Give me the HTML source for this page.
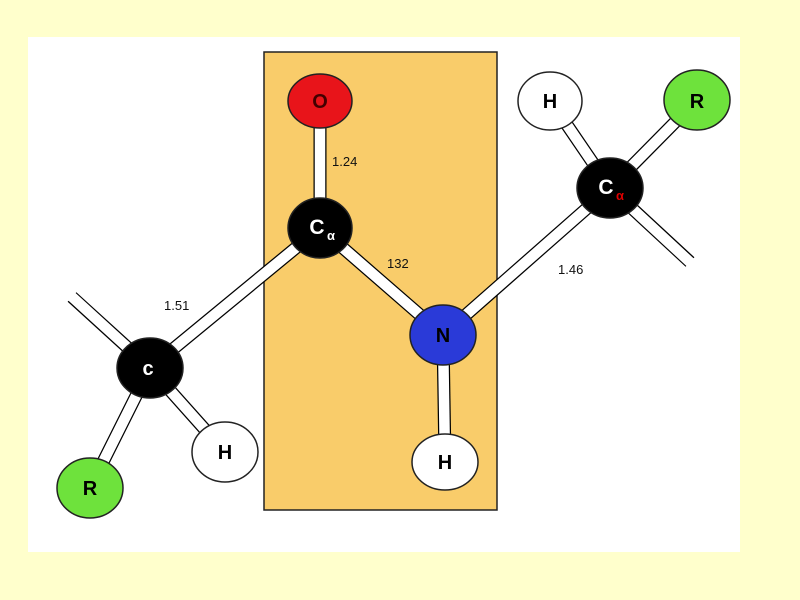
<!DOCTYPE html>
<html><head><style>
html,body{margin:0;padding:0;background:#FFFFCC;}
svg{display:block;}
text{font-family:"Liberation Sans",sans-serif;}
</style></head><body>
<svg width="800" height="600" viewBox="0 0 800 600">
<rect x="0" y="0" width="800" height="600" fill="#FFFFCC"/>
<rect x="28" y="37" width="712" height="515" fill="#fff"/>
<rect x="264" y="52" width="233" height="458" fill="#F9CC6A" stroke="#222" stroke-width="1.5"/>
<g stroke-linecap="butt">
<g stroke="#000" stroke-width="13">
<line x1="320" y1="100" x2="320" y2="228"/>
<line x1="320" y1="228" x2="443" y2="335"/>
<line x1="320" y1="228" x2="150" y2="368"/>
<line x1="443" y1="335" x2="610" y2="188"/>
<line x1="443" y1="335" x2="445" y2="462"/>
<line x1="150" y1="368" x2="72" y2="297"/>
<line x1="150" y1="368" x2="90" y2="488"/>
<line x1="150" y1="368" x2="225" y2="452"/>
<line x1="610" y1="188" x2="690" y2="262"/>
<line x1="610" y1="188" x2="550" y2="100"/>
<line x1="610" y1="188" x2="697" y2="100"/>
</g>
<g stroke="#fff" stroke-width="10.5">
<line x1="320" y1="100" x2="320" y2="228"/>
<line x1="320" y1="228" x2="443" y2="335"/>
<line x1="320" y1="228" x2="150" y2="368"/>
<line x1="443" y1="335" x2="610" y2="188"/>
<line x1="443" y1="335" x2="445" y2="462"/>
<line x1="150" y1="368" x2="70" y2="295"/>
<line x1="150" y1="368" x2="90" y2="488"/>
<line x1="150" y1="368" x2="225" y2="452"/>
<line x1="610" y1="188" x2="692" y2="264"/>
<line x1="610" y1="188" x2="550" y2="100"/>
<line x1="610" y1="188" x2="697" y2="100"/>
</g>
</g>
<g stroke="#222" stroke-width="1.5">
<ellipse cx="320" cy="101" rx="32" ry="27" fill="#E8141A"/>
<ellipse cx="320" cy="228" rx="32" ry="30" fill="#000"/>
<ellipse cx="443" cy="335" rx="33" ry="30" fill="#2A3AD8"/>
<ellipse cx="445" cy="462" rx="33" ry="28" fill="#fff"/>
<ellipse cx="610" cy="188" rx="33" ry="30" fill="#000"/>
<ellipse cx="550" cy="101" rx="32" ry="29" fill="#fff"/>
<ellipse cx="697" cy="100" rx="33" ry="30" fill="#6EE23C"/>
<ellipse cx="150" cy="368" rx="33" ry="30" fill="#000"/>
<ellipse cx="225" cy="452" rx="33" ry="30" fill="#fff"/>
<ellipse cx="90" cy="488" rx="33" ry="30" fill="#6EE23C"/>
</g>
<g font-size="20" text-anchor="middle" font-weight="bold">
<text x="320" y="108" fill="#400">O</text>
<text x="317" y="234" fill="#fff" font-size="21">C</text>
<text x="331" y="240" fill="#fff" font-size="13">α</text>
<text x="443" y="342" fill="#000">N</text>
<text x="445" y="469" fill="#000">H</text>
<text x="606" y="194" fill="#fff" font-size="21">C</text>
<text x="620" y="200" fill="#d00" font-size="13">α</text>
<text x="550" y="108" fill="#000">H</text>
<text x="697" y="108" fill="#000">R</text>
<text x="148" y="375" fill="#fff">c</text>
<text x="225" y="459" fill="#000">H</text>
<text x="90" y="495" fill="#000">R</text>
</g>
<g font-size="13" fill="#111">
<text x="332" y="166">1.24</text>
<text x="387" y="268">132</text>
<text x="164" y="310">1.51</text>
<text x="558" y="274">1.46</text>
</g>
</svg>
</body></html>
